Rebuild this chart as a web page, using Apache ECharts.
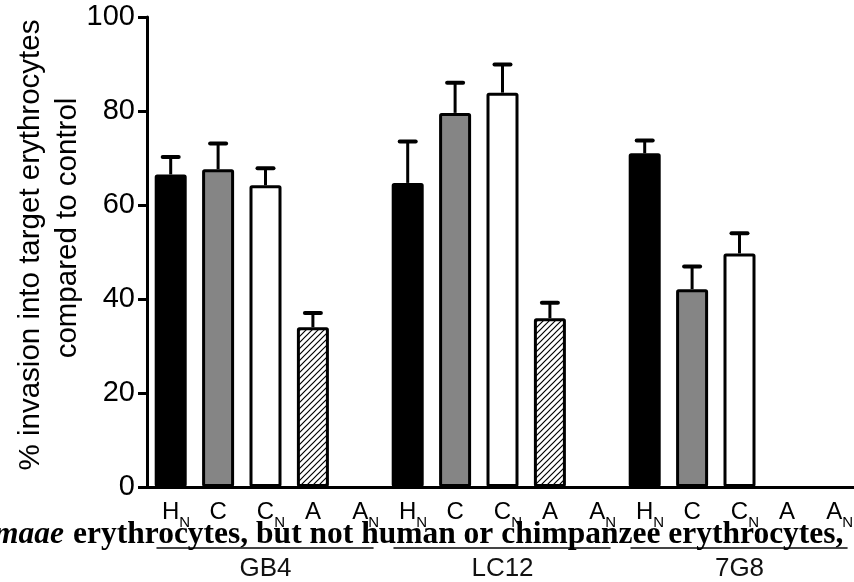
<!DOCTYPE html>
<html>
<head>
<meta charset="utf-8">
<style>
html, body { margin: 0; padding: 0; background: #fff; }
#chart { width: 854px; height: 582px; }
</style>
<script src="https://cdn.jsdelivr.net/npm/echarts@6/dist/echarts.min.js"></script>
</head>
<body>
<div id="chart"></div>
<script>
const categories = ['H_N', 'C', 'C_N', 'A', 'A_N']
const groups = ['GB4', 'LC12', '7G8']
const gb4Mean = [66.5, 67.6, 64.2, 34.0, null]
const gb4Err = [3.7, 5.5, 3.6, 3.0, null]
const lc12Mean = [64.7, 79.6, 83.9, 35.9, null]
const lc12Err = [8.8, 6.4, 6.0, 3.3, null]
const g7g8Mean = [71.0, 42.1, 49.7, null, null]
const g7g8Err = [2.7, 4.8, 4.3, null, null]
const yTicks = [0, 20, 40, 60, 80, 100]
const yTitle = ['% invasion into target erythrocytes', 'compared to control']
const caption = ['maae', 'erythrocytes, but not human or chimpanzee erythrocytes,']

let chart = echarts.init(document.querySelector('#chart'))

// diagonal hatch for the "A" bars
function hatch() {
    const c = document.createElement('canvas')
    c.width = 6
    c.height = 6
    const ctx = c.getContext('2d')
    ctx.fillStyle = '#fff'
    ctx.fillRect(0, 0, 6, 6)
    ctx.strokeStyle = '#000'
    ctx.lineWidth = 1.2
    ctx.beginPath()
    ctx.moveTo(-1, 7); ctx.lineTo(7, -1)
    ctx.moveTo(-1, 1); ctx.lineTo(1, -1)
    ctx.moveTo(5, 7); ctx.lineTo(7, 5)
    ctx.stroke()
    return c
}

const fills = ['#000000', '#858585', '#ffffff', {image: hatch(), repeat: 'repeat'}, 'transparent']
const means = [gb4Mean, lc12Mean, g7g8Mean]
const errs = [gb4Err, lc12Err, g7g8Err]

const xData = []
const barData = []
const errData = []
groups.forEach((g, gi) => {
    categories.forEach((c, ci) => {
        const i = xData.length
        const m = means[gi][ci]
        xData.push(g + ':' + c)
        barData.push({value: m, itemStyle: {color: fills[ci]}})
        if (m != null) errData.push([i, m, m + errs[gi][ci]])
    })
})

const font = 'Liberation Sans'

chart.setOption({
    animation: false,
    grid: {left: 147, right: -4, top: 17, bottom: 95, containLabel: false, outerBoundsMode: 'none'},
    xAxis: {
        type: 'category',
        data: xData,
        axisLine: {lineStyle: {color: '#000', width: 3}},
        axisTick: {show: false},
        axisLabel: {
            interval: 0,
            margin: 13,
            formatter: v => {
                const [m, s] = v.split(':')[1].split('_')
                return s ? `{h|${s}}{m|${m}}{s|${s}}` : `{m|${m}}`
            },
            rich: {
                m: {fontFamily: font, fontSize: 24, color: '#000', lineHeight: 30, verticalAlign: 'top'},
                s: {fontFamily: font, fontSize: 15, color: '#000', lineHeight: 15, verticalAlign: 'bottom'},
                h: {fontFamily: font, fontSize: 15, color: 'transparent', lineHeight: 15, verticalAlign: 'bottom'}
            }
        }
    },
    yAxis: {
        type: 'value',
        min: yTicks[0],
        max: yTicks[yTicks.length - 1],
        interval: yTicks[1] - yTicks[0],
        splitLine: {show: false},
        axisLine: {show: true, lineStyle: {color: '#000', width: 3}},
        axisTick: {show: true, length: 9, lineStyle: {color: '#000', width: 3}},
        axisLabel: {fontFamily: font, fontSize: 29, color: '#000', margin: 12}
    },
    series: [
        {
            type: 'bar',
            data: barData,
            barWidth: 32,
            itemStyle: {borderColor: '#000', borderWidth: 3, borderRadius: 1}
        },
        {
            type: 'custom',
            data: errData,
            encode: {x: 0, y: [1, 2]},
            z: 1,
            renderItem: (params, api) => {
                const lo = api.coord([api.value(0), api.value(1)])
                const hi = api.coord([api.value(0), api.value(2)])
                return {
                    type: 'group',
                    children: [
                        {type: 'line', shape: {x1: lo[0], y1: lo[1], x2: hi[0], y2: hi[1]}, style: {stroke: '#000', lineWidth: 3}},
                        {type: 'line', shape: {x1: hi[0] - 8, y1: hi[1], x2: hi[0] + 8, y2: hi[1]}, style: {stroke: '#000', lineWidth: 4, lineCap: 'round'}}
                    ]
                }
            }
        }
    ]
})

// group brackets + labels, caption and axis title
const slot = chart.convertToPixel({xAxisIndex: 0}, 1) - chart.convertToPixel({xAxisIndex: 0}, 0)
const graphics = []
groups.forEach((g, gi) => {
    const first = chart.convertToPixel({xAxisIndex: 0}, gi * categories.length)
    const last = chart.convertToPixel({xAxisIndex: 0}, gi * categories.length + categories.length - 1)
    graphics.push({
        type: 'line', z: 50,
        shape: {x1: first - slot * 0.3, y1: 548, x2: last + slot * 0.28, y2: 548},
        style: {stroke: '#444', lineWidth: 2}
    })
    graphics.push({
        type: 'text', z: 50,
        x: (first + last) / 2, y: 569,
        style: {text: g, fontFamily: font, fontSize: 26, fill: '#111', align: 'center', verticalAlign: 'middle'}
    })
})
graphics.push({
    type: 'text', z: 30, x: 31, y: 245, rotation: Math.PI / 2,
    style: {text: yTitle[0], fontFamily: font, fontSize: 29.5, fill: '#000', align: 'center', verticalAlign: 'middle'}
})
graphics.push({
    type: 'text', z: 30, x: 68, y: 228, rotation: Math.PI / 2,
    style: {text: yTitle[1], fontFamily: font, fontSize: 29.5, fill: '#000', align: 'center', verticalAlign: 'middle'}
})
graphics.push({
    type: 'text', z: 100, x: 64, y: 535,
    style: {
        text: caption[0], align: 'right', verticalAlign: 'middle',
        fontFamily: 'Liberation Serif', fontSize: 31.5, fontWeight: 'bold', fontStyle: 'italic', fill: '#000'
    }
})
graphics.push({
    type: 'text', z: 100, x: 73, y: 535,
    style: {
        text: caption[1], align: 'left', verticalAlign: 'middle',
        fontFamily: 'Liberation Serif', fontSize: 31.5, fontWeight: 'bold', fill: '#000'
    }
})
chart.setOption({graphic: graphics})
</script>
</body>
</html>
